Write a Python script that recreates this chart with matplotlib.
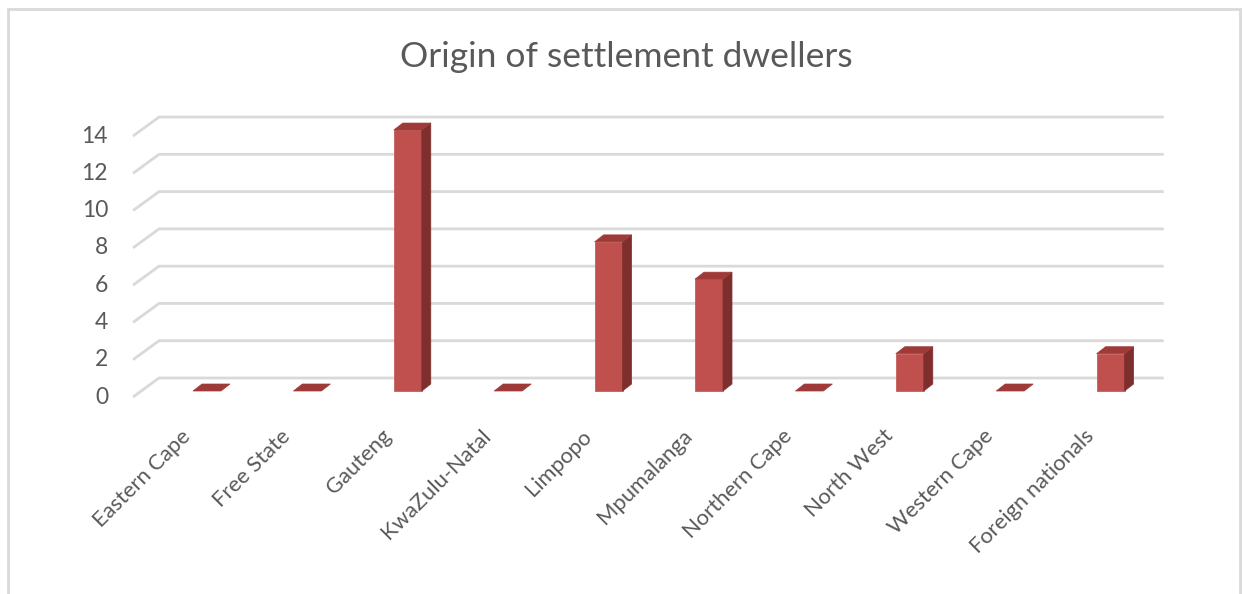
import matplotlib
matplotlib.use("Agg")
import matplotlib.pyplot as plt
from matplotlib.patches import Polygon, Rectangle

categories = ["Eastern Cape", "Free State", "Gauteng", "KwaZulu-Natal", "Limpopo",
              "Mpumalanga", "Northern Cape", "North West", "Western Cape", "Foreign nationals"]
values = [0, 0, 14, 0, 8, 6, 0, 2, 0, 2]
yticks = [0, 2, 4, 6, 8, 10, 12, 14]
title = "Origin of settlement dwellers"

W, H = 1243, 594
fig = plt.figure(figsize=(W / 100, H / 100), dpi=100)

# axes geometry in pixels (front plane of the bars)
x0_px, xstep_px = 207.0, 100.4      # category 0 center, spacing
y0_px, ystep_px = 391.0, 18.64      # value 0 baseline, px per unit
xlim = (-1.0, 10.0)
ylim = (-3.0, 16.0)
left_px = x0_px + xlim[0] * xstep_px
right_px = x0_px + xlim[1] * xstep_px
bottom_px = y0_px - ylim[0] * ystep_px
top_px = y0_px - ylim[1] * ystep_px
ax = fig.add_axes([left_px / W, 1 - bottom_px / H, (right_px - left_px) / W, (bottom_px - top_px) / H])
ax.set_xlim(*xlim)
ax.set_ylim(*ylim)
ax.axis("off")

def px2dx(p):
    return p / xstep_px

def px2dy(p):
    return p / ystep_px

grid_color = "#D9D9D9"
text_color = "#595959"
front_c = "#C0504D"
side_c = "#7E2F2D"
top_c = "#9E3A37"

# floor / wall geometry (pixel offsets relative to bar plane)
wall_x = -0.657
wall_right = 9.35
f_dx, f_dy = -8, -6
b_dx, b_dy = 18, 13

for v in yticks:
    xa = wall_x + px2dx(f_dx)
    ya = v + px2dy(f_dy)
    xb = wall_x + px2dx(b_dx)
    yb = v + px2dy(b_dy)
    ax.plot([xa, xb, wall_right + px2dx(b_dx)], [ya, yb, yb], color=grid_color, lw=2.0,
            solid_capstyle="butt", zorder=1)
    ax.text(xa - px2dx(25), ya, str(v), ha="right", va="center", fontsize=16.5,
            color=text_color, family="Lato")

# bars
bw = 28 / xstep_px
ddx, ddy = px2dx(9), px2dy(7)
for i, v in enumerate(values):
    xl, xr = i - bw / 2, i + bw / 2
    if v > 0:
        ax.add_patch(Polygon([(xl, 0), (xr, 0), (xr, v), (xl, v)], closed=True,
                             facecolor=front_c, edgecolor=front_c, lw=0.5, zorder=3))
        ax.add_patch(Polygon([(xr, 0), (xr + ddx, ddy), (xr + ddx, v + ddy), (xr, v)], closed=True,
                             facecolor=side_c, edgecolor=side_c, lw=0.5, zorder=3))
    ax.add_patch(Polygon([(xl, v), (xr, v), (xr + ddx, v + ddy), (xl + ddx, v + ddy)], closed=True,
                         facecolor=top_c, edgecolor=top_c, lw=0.5, zorder=4))

# category labels
for i, name in enumerate(categories):
    ax.text(i - px2dx(20), -px2dy(42), name, rotation=45, rotation_mode="anchor",
            ha="right", va="center", fontsize=15.8, color=text_color, family="Lato")

# title
fig.text(626 / W, 1 - 57 / H, title, ha="center", va="center", fontsize=25.5,
         color=text_color, family="Lato")

# chart border
fig.add_artist(Rectangle((8 / W, -0.1), (1240 - 8) / W, (1 - 9 / H) + 0.1,
                         transform=fig.transFigure, facecolor="none", edgecolor="#D9D9D9", lw=2))

fig.savefig("out.png", dpi=100)
